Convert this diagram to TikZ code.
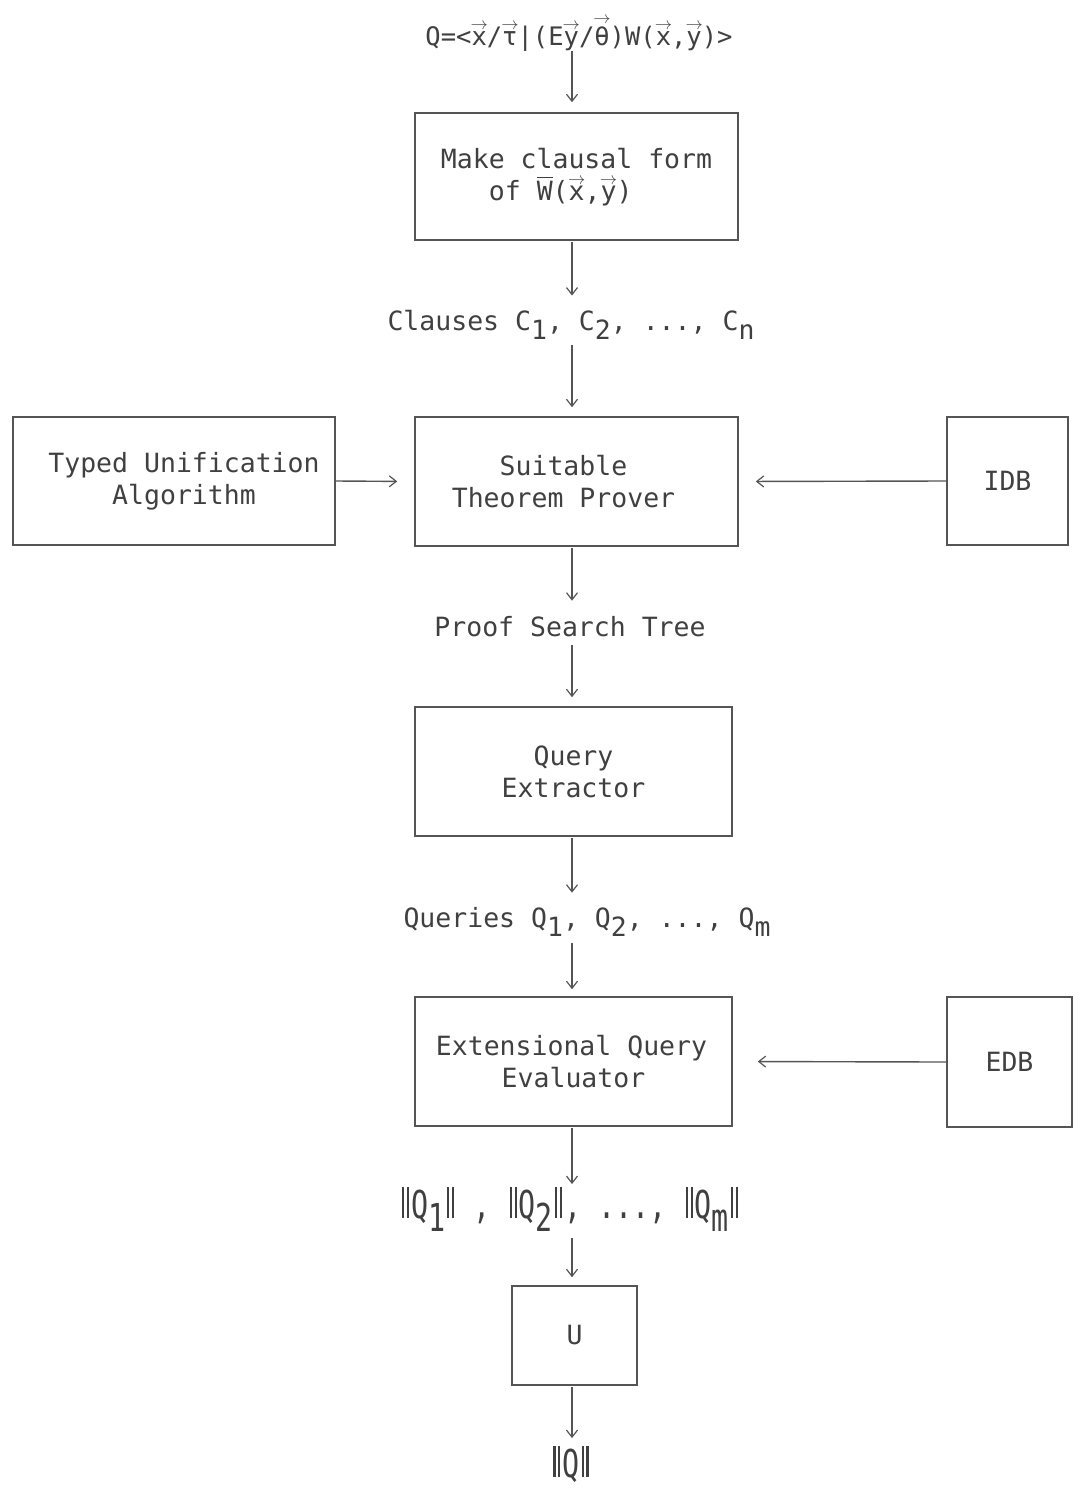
\documentclass[tikz,border=0pt]{standalone}
\usepackage{amsmath}
\usepackage{fontspec}
\setmonofont{DejaVu Sans Mono}
\usetikzlibrary{arrows.meta}
\definecolor{ink}{HTML}{404040}
\definecolor{edge}{HTML}{555555}
\newcommand\myvecr[2]{\ooalign{#2\cr\hidewidth\smash{\raisebox{#1}{$\scriptstyle\rightarrow$}}\hidewidth\cr}}
\newcommand\myvec[1]{\myvecr{0.6em}{#1}}
\newcommand\myover[1]{\ensuremath{\overline{\mbox{#1}}}}
\newcommand\mysub[1]{\raisebox{-0.36em}{#1}}
\newcommand\mynorm{\hspace{2pt}\rule{1.9pt}{0.8em}\hspace{2.6pt}\rule{1.9pt}{0.8em}\hspace{2pt}}
\begin{document}
\begin{tikzpicture}[x=1pt,y=-1pt,
  txt/.style={font=\ttfamily\fontsize{26.5}{32}\selectfont, text=ink, align=center, inner sep=0pt},
  box/.style={txt, draw=edge, line width=1.6pt},
  arr/.style={draw=edge, line width=1.4pt, -{Straight Barb[length=7pt,width=11pt,line width=1.2pt]}}]
\useasboundingbox (0,0) rectangle (1079,1491);
\coordinate (ax) at (572,0);

\node[txt, font=\ttfamily\fontsize{25.5}{30}\selectfont, anchor=base] (q) at (579,45)
  {Q=<\myvec{x}/\myvec{τ}|(E\myvec{y}/\myvecr{0.85em}{θ})W(\myvec{x},\myvec{y})>};

\node[box, minimum width=323pt, minimum height=127pt, align=left] (mk) at (576.5,176.5)
  {Make clausal form\\\hspace*{48pt}of \myover{W}(\myvec{x},\myvec{y})};

\node[txt, anchor=base] (cl) at (571,330)
  {Clauses C\mysub{1}, C\mysub{2}, ..., C\mysub{n}};

\node[box, minimum width=323pt, minimum height=129pt] (sp) at (576.5,481.5)
  {Suitable\hspace*{26pt}\\Theorem Prover\hspace*{26pt}};

\node[box, minimum width=322pt, minimum height=128pt] (tua) at (174,481)
  {\hspace*{20pt}Typed Unification\\\hspace*{20pt}Algorithm};

\node[box, minimum width=121pt, minimum height=128pt] (idb) at (1007.5,481) {IDB};

\node[txt, anchor=base] (pst) at (570,636) {Proof Search Tree};

\node[box, minimum width=317pt, minimum height=129pt] (qe) at (573.5,771.5)
  {Query\\Extractor};

\node[txt, anchor=base] (qs) at (587,927)
  {Queries Q\mysub{1}, Q\mysub{2}, ..., Q\mysub{m}};

\node[box, minimum width=317pt, minimum height=129pt] (eqe) at (573.5,1061.5)
  {\hspace*{-4pt}Extensional Query\\Evaluator};

\node[box, minimum width=125pt, minimum height=130pt] (edb) at (1009.5,1062) {EDB};

\node[txt, anchor=base] (ns) at (570,1218)
  {\scalebox{1.07}[1.45]{\mynorm Q\mysub{1}\mynorm\ , \mynorm Q\mysub{2}\mynorm, ..., \mynorm Q\mysub{m}\mynorm}};

\node[box, minimum width=125pt, minimum height=99pt] (un) at (574.5,1335.5) {U};

\node[txt, anchor=base] (nq) at (571,1477) {\scalebox{1.07}[1.45]{\mynorm Q\mynorm}};

\draw[arr, shorten >=10pt] (q.south -| ax) -- (mk.north -| ax);
\draw[arr, shorten <=1pt, shorten >=14pt] (mk.south -| ax) -- (cl.north -| ax);
\draw[arr, shorten <=5pt, shorten >=9pt] (cl.south -| ax) -- (sp.north -| ax);
\draw[arr, shorten >=17pt] (tua.east) -- (sp.west);
\draw[arr, shorten >=17pt] (idb.west) -- (sp.east);
\draw[arr, shorten <=1pt, shorten >=15pt] (sp.south -| ax) -- (pst.north -| ax);
\draw[arr, shorten <=8pt, shorten >=9pt] (pst.south -| ax) -- (qe.north -| ax);
\draw[arr, shorten <=1pt, shorten >=14pt] (qe.south -| ax) -- (qs.north -| ax);
\draw[arr, shorten <=6pt, shorten >=7pt] (qs.south -| ax) -- (eqe.north -| ax);
\draw[arr, shorten >=25pt] (edb.west) -- (eqe.east);
\draw[arr, shorten <=1pt, shorten >=3pt] (eqe.south -| ax) -- (ns.north -| ax);
\draw[arr, shorten <=6pt, shorten >=8pt] (ns.south -| ax) -- (un.north -| ax);
\draw[arr, shorten <=1pt, shorten >=8pt] (un.south -| ax) -- (nq.north -| ax);
\end{tikzpicture}
\end{document}
